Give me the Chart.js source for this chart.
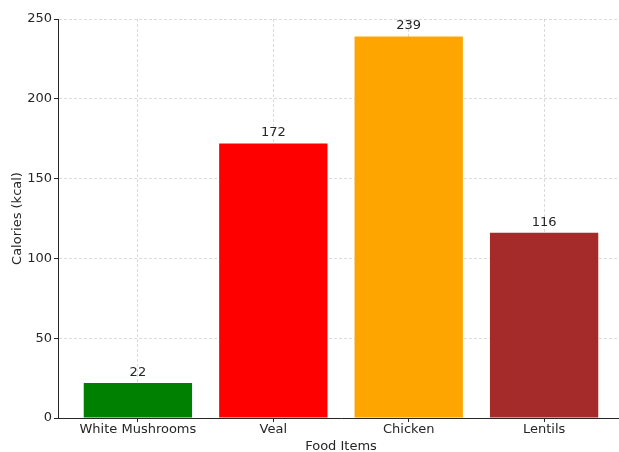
<!DOCTYPE html>
<html>
<head>
<meta charset="utf-8">
<script src="https://cdn.jsdelivr.net/npm/chart.js@4.4.1/dist/chart.umd.min.js"></script>
<style>
  html, body { margin: 0; padding: 0; background: #fff; overflow: hidden; }
  #wrap { width: 632px; height: 454px; }
</style>
</head>
<body>
<div id="wrap"><canvas id="chart"></canvas></div>
<script>
// Calories per food item
const categories = ['White Mushrooms', 'Veal', 'Chicken', 'Lentils'];
const calories = [22, 172, 239, 116];
const barColors = ['#008000', '#ff0000', '#ffa500', '#a52a2a'];
const yTicks = [0, 50, 100, 150, 200, 250];

const TEXT = '#262626';
const FONT = { family: 'DejaVu Sans', size: 13 };

// value labels above each bar
const valueLabels = {
  id: 'valueLabels',
  afterDatasetsDraw(chart) {
    const { ctx } = chart;
    const meta = chart.getDatasetMeta(0);
    ctx.save();
    ctx.font = '13px "DejaVu Sans"';
    ctx.fillStyle = TEXT;
    ctx.textAlign = 'center';
    ctx.textBaseline = 'bottom';
    meta.data.forEach((bar, i) => {
      ctx.fillText(String(calories[i]), bar.x, bar.y - 4);
    });
    ctx.restore();
  },
};

new Chart(document.getElementById('chart'), {
  type: 'bar',
  data: {
    datasets: [{
      data: calories.map((v, i) => ({ x: i, y: v })),
      backgroundColor: barColors,
      borderWidth: 0,
      inflateAmount: 0,
      barPercentage: 0.8,
      categoryPercentage: 1,
    }],
  },
  options: {
    responsive: true,
    maintainAspectRatio: false,
    animation: false,
    layout: { padding: { left: 10, right: 8, top: 19, bottom: 0 } },
    plugins: { legend: { display: false }, tooltip: { enabled: false } },
    scales: {
      x: {
        type: 'linear',
        min: -0.59,
        max: 3.59,
        offset: false,
        z: 1,
        afterBuildTicks: (s) => { s.ticks = categories.map((_, i) => ({ value: i })); },
        afterFit: (s) => { s.height = 36; },
        ticks: {
          font: FONT,
          color: TEXT,
          padding: 0,
          callback: (v) => categories[v],
          maxRotation: 0,
          autoSkip: false,
        },
        grid: {
          offset: false,
          color: 'rgba(190,190,190,0.55)',
          tickColor: TEXT,
          tickLength: 4,
        },
        border: { color: TEXT, width: 1, dash: [3, 2] },
        title: { display: true, text: 'Food Items', font: FONT, color: TEXT, padding: { top: 0, bottom: 0 } },
      },
      y: {
        min: 0,
        max: 250,
        z: 1,
        afterBuildTicks: (s) => { s.ticks = yTicks.map((v) => ({ value: v })); },
        afterFit: (s) => { s.width = 48; },
        ticks: { font: FONT, color: TEXT, padding: 2 },
        grid: {
          color: 'rgba(190,190,190,0.55)',
          tickColor: TEXT,
          tickLength: 4,
        },
        border: { color: TEXT, width: 1, dash: [3, 2] },
        title: { display: true, text: 'Calories (kcal)', font: FONT, color: TEXT, padding: { top: 0, bottom: 0 } },
      },
    },
  },
  plugins: [valueLabels],
});
</script>
</body>
</html>
